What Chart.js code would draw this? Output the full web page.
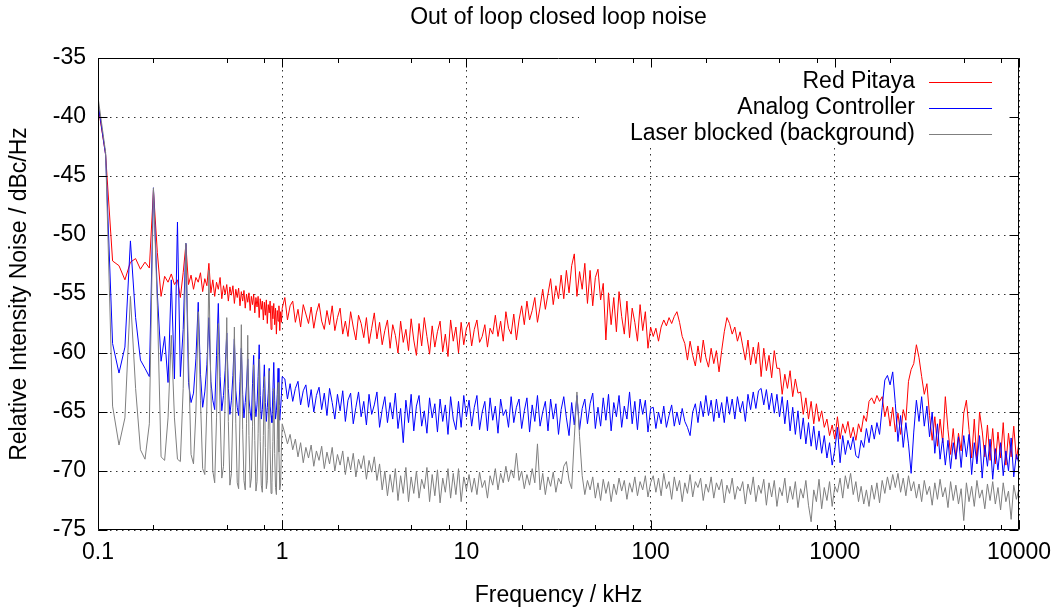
<!DOCTYPE html>
<html>
<head>
<meta charset="utf-8">
<title>Out of loop closed loop noise</title>
<script src="https://cdn.jsdelivr.net/npm/chart.js@4.4.1/dist/chart.umd.min.js"></script>
<style>
  html, body { margin: 0; padding: 0; background: #fff; }
  #noiseChart { display: block; }
</style>
</head>
<body>
<canvas id="noiseChart" width="1060" height="610"></canvas>
<script>
// ===== LABELS =====
const chartTitle = 'Out of loop closed loop noise';
const xTitle = 'Frequency / kHz';
const yTitle = 'Relative Intensity Noise / dBc/Hz';
const seriesNames = ['Red Pitaya', 'Analog Controller', 'Laser blocked (background)'];
const seriesColors = ['#ff0000', '#0000ff', '#7f7f7f'];

const xTickValues = [0.1, 1, 10, 100, 1000, 10000];
const xTickLabels = ['0.1', '1', '10', '100', '1000', '10000'];
const xMinorMantissas = [2, 5, 8];
const yTickValues = [-75, -70, -65, -60, -55, -50, -45, -40, -35];

// ===== FREQUENCY GRID (kHz) =====
// 0.1 - 1 kHz every 10 Hz, then 70 log steps per decade up to 10 MHz
const freqs = [];
for (let i = 10; i <= 100; i++) freqs.push(i / 100);
for (let k = 1; k <= 280; k++) freqs.push(Math.pow(10, k / 70));

// ===== RED PITAYA (dBc/Hz) =====
const redLow = [
  -39.0, -43.2, -52.2, -52.6, -53.8, -52.3, -52.0, -52.9, -52.3, -52.8, -46.2,
  -51.5, -55.2, -53.5, -54.0, -53.3, -54.2, -53.8, -55.3, -53.2, -50.8,
  -54.2, -53.4, -54.6, -53.6, -54.0, -53.2, -54.8, -53.7, -54.3, -52.4,
  -54.9, -53.8, -55.2, -54.0, -54.6, -53.6, -55.4, -54.3, -55.0, -54.2,
  -55.6, -54.4, -55.1, -54.3, -55.8, -54.6, -55.3, -54.5, -56.0, -54.8,
  -55.6, -54.7, -56.2, -55.0, -55.7, -54.9, -56.4, -55.2, -55.9, -55.0,
  -56.6, -55.3, -56.1, -55.2, -57.0, -55.4, -56.3, -55.6, -57.2, -55.7,
  -56.8, -55.5, -57.5, -55.9, -56.6, -55.6, -58.0, -56.0, -57.1, -55.8,
  -57.6, -56.2, -58.4, -56.4, -57.3, -56.0, -58.1, -56.5, -57.4, -56.2
];
const redDec1 = [
  -55.3, -57.2, -56.0, -55.6, -57.4, -56.3, -57.8, -55.9, -56.7, -57.5,
  -56.1, -57.9, -56.6, -55.8, -57.3, -58.0, -56.4, -57.6, -56.0, -58.1,
  -57.0, -56.2, -58.4, -57.3, -58.6, -56.5, -57.8, -58.9, -56.8, -57.5,
  -58.7, -57.0, -59.2, -57.9, -56.6, -58.8, -57.4, -59.3, -58.1, -57.2,
  -59.6, -57.6, -58.5, -60.0, -57.3, -59.1, -58.0, -59.8, -57.1, -58.9,
  -60.2, -57.5, -59.4, -57.0, -58.6, -60.1, -57.7, -59.5, -58.2, -57.3,
  -59.9, -58.4, -60.3, -57.2, -59.0, -57.8, -60.0, -57.4, -59.3, -57.9
];
const redDec2 = [
  -57.4, -59.4, -58.0, -57.2, -59.1, -58.6, -57.6, -59.5, -57.9, -58.4,
  -56.8, -58.6, -57.3, -59.0, -56.5, -57.9, -58.4, -56.7, -58.9, -57.2,
  -56.0, -57.6, -55.6, -57.2, -56.4, -55.3, -57.4, -56.1, -54.6, -56.3,
  -55.0, -53.7, -55.9, -54.3, -55.4, -53.4, -55.4, -53.0, -54.9, -52.6,
  -51.6, -55.2, -53.1, -54.6, -52.4, -55.8, -53.0, -56.0, -53.6, -52.9,
  -55.5, -54.1, -58.9, -54.9, -57.6, -55.3, -58.2, -54.8, -56.9, -58.4,
  -55.6, -58.7, -56.2, -57.4, -59.0, -55.9, -58.1, -56.5, -59.6, -57.8
];
const redDec3 = [
  -58.6, -57.9, -59.0, -57.8, -57.2, -57.7, -57.0, -57.5, -56.9, -56.5,
  -57.4, -58.6, -59.2, -60.6, -59.0, -60.2, -61.1, -59.4, -60.8, -58.9,
  -60.4, -61.2, -59.6, -60.9, -59.8, -61.6, -59.8, -58.2, -57.0, -57.5,
  -58.4, -57.8, -59.0, -58.2, -59.4, -60.6, -58.9, -61.0, -59.5, -60.9,
  -59.1, -62.0, -59.6, -61.5, -60.2, -62.1, -59.8, -61.3, -61.3, -63.5,
  -61.8, -63.0, -61.5, -63.7, -62.2, -63.4, -63.3, -65.2, -63.8, -65.6,
  -64.1, -66.0, -64.3, -65.8, -64.9, -66.3, -65.6, -67.0, -66.1, -67.3
];
const redDec4 = [
  -65.4, -67.3, -66.0, -66.8, -65.8, -67.2, -66.3, -67.4, -66.0, -66.7,
  -65.3, -65.8, -64.1, -63.8, -64.3, -63.6, -64.1, -63.7, -65.4, -64.5,
  -66.2, -64.6, -66.7, -65.1, -66.9, -64.8, -65.7, -62.4, -61.4, -60.9,
  -59.3, -60.4, -62.0, -63.5, -62.6, -65.3, -67.4, -65.4, -67.9, -65.6,
  -67.6, -63.7, -66.5, -68.6, -66.4, -69.0, -66.8, -68.3, -65.1, -64.0,
  -66.5, -68.9, -65.6, -69.2, -65.0, -66.6, -68.8, -66.1, -69.1, -66.4,
  -69.4, -66.7, -68.9, -65.9, -69.5, -66.8, -68.8, -66.2, -69.0, -67.6
];

// ===== ANALOG CONTROLLER (dBc/Hz) =====
const blueLow = [
  -38.8, -43.2, -59.2, -61.7, -59.5, -50.5, -57.0, -60.6, -61.3, -62.0, -46.0,
  -55.0, -60.7, -58.6, -62.5, -53.8, -62.2, -48.9, -62.0, -58.0, -50.7,
  -62.5, -64.2, -63.4, -60.5, -55.7, -61.8, -64.6, -63.3, -61.0, -57.0,
  -62.4, -64.0, -64.8, -60.2, -55.8, -62.0, -64.9, -63.6, -61.5, -58.3,
  -63.0, -65.2, -64.0, -61.9, -58.8, -63.2, -64.6, -65.3, -62.4, -59.6,
  -63.5, -65.5, -64.2, -62.8, -60.5, -63.9, -65.0, -65.7, -62.6, -60.2,
  -64.0, -65.4, -64.4, -62.0, -59.3, -63.6, -65.6, -64.8, -63.0, -61.0,
  -64.2, -65.8, -64.6, -63.4, -61.3, -64.5, -65.3, -65.9, -63.2, -60.8,
  -64.0, -65.6, -64.9, -63.5, -61.3, -64.4, -65.7, -64.7, -63.6, -62.0
];
const blueDec1 = [
  -62.2, -63.9, -62.6, -64.1, -63.0, -62.4, -64.4, -63.2, -62.7, -64.6,
  -63.1, -65.0, -63.6, -62.9, -64.8, -63.4, -65.3, -63.0, -64.2, -65.6,
  -63.5, -64.9, -63.2, -65.8, -64.0, -63.4, -66.0, -64.6, -63.3, -65.4,
  -64.1, -66.1, -63.5, -65.2, -64.4, -63.3, -66.3, -64.8, -63.7, -65.9,
  -64.2, -65.6, -63.4, -66.4, -64.7, -67.6, -64.0, -65.9, -63.5, -66.6,
  -64.5, -63.6, -66.2, -64.9, -66.8, -63.8, -65.5, -64.3, -66.7, -63.9,
  -65.8, -64.4, -66.9, -63.7, -65.6, -66.5, -64.1, -66.3, -63.6, -65.4
];
const blueDec2 = [
  -64.0, -66.2, -64.6, -63.6, -66.5, -65.0, -64.1, -66.6, -63.8, -65.7,
  -64.5, -66.8, -63.9, -65.3, -64.8, -66.3, -63.7, -65.9, -64.6, -63.9,
  -66.4, -64.9, -63.8, -66.7, -64.4, -65.8, -63.6, -66.2, -65.0, -64.1,
  -66.6, -63.9, -65.6, -64.3, -66.9, -64.8, -63.7, -65.5, -67.0, -64.2,
  -66.1, -63.6, -66.5, -64.7, -63.9, -66.0, -64.3, -63.4, -66.4, -64.6,
  -66.2, -63.8, -65.7, -63.5, -66.6, -64.2, -65.4, -63.6, -66.3, -64.5,
  -65.6, -63.3, -66.0, -64.1, -66.5, -63.9, -65.2, -64.0, -66.7, -64.7
];
const blueDec3 = [
  -64.6, -66.4, -65.0, -66.0, -64.5, -66.3, -65.3, -64.4, -66.2, -65.0,
  -66.1, -64.7, -65.8, -66.3, -67.0, -65.0, -64.3, -65.9, -64.1, -65.4,
  -63.6, -65.3, -64.0, -65.8, -63.9, -65.5, -64.2, -65.9, -63.7, -65.2,
  -63.9, -65.6, -63.7, -65.0, -64.1, -65.8, -63.5, -64.8, -63.3, -64.7,
  -63.2, -63.0, -64.4, -63.1, -64.8, -63.4, -65.1, -63.5, -65.4, -63.7,
  -66.0, -64.0, -66.6, -64.6, -66.9, -64.9, -67.3, -65.5, -67.7, -65.9,
  -67.9, -66.2, -68.2, -66.6, -68.5, -67.0, -68.9, -67.6, -69.5, -68.2
];
const blueDec4 = [
  -66.3, -69.3, -67.0, -68.6, -67.4, -68.2, -67.1, -68.7, -68.9, -67.4,
  -68.0, -66.4, -67.6, -66.1, -67.3, -65.9, -66.9, -64.6, -62.3, -61.9,
  -62.7, -61.6, -64.3, -67.5, -65.3, -68.0, -65.9, -67.7, -70.2, -66.7,
  -64.0, -65.8, -63.7, -66.2, -64.5, -67.1, -65.0, -68.5, -66.0, -69.0,
  -67.2, -69.5, -67.4, -69.8, -67.6, -69.0, -67.1, -69.7, -67.0, -68.8,
  -66.9, -70.3, -67.6, -69.4, -67.0, -70.6, -67.8, -69.6, -67.3, -70.7,
  -68.1, -69.9, -67.6, -70.4, -68.3, -70.0, -67.2, -70.5, -68.6, -69.4
];

// ===== LASER BLOCKED (dBc/Hz) =====
const grayLow = [
  -38.3, -43.0, -64.5, -67.8, -65.5, -55.2, -63.0, -68.2, -69.0, -66.0, -46.0,
  -56.0, -68.8, -69.1, -65.5, -58.5, -65.5, -69.0, -69.2, -63.0, -50.7,
  -60.5, -68.6, -69.4, -65.0, -56.5, -64.0, -69.8, -70.3, -64.5, -53.0,
  -63.0, -70.0, -71.0, -65.5, -57.5, -65.0, -70.6, -69.6, -64.0, -57.0,
  -65.8, -71.2, -70.2, -64.6, -57.8, -66.0, -71.0, -71.5, -65.2, -57.6,
  -66.5, -70.8, -71.6, -66.0, -58.5, -67.0, -71.4, -70.6, -66.2, -61.0,
  -67.4, -71.7, -70.9, -66.8, -60.5, -67.5, -71.2, -71.8, -67.0, -62.0,
  -68.0, -71.5, -70.8, -66.5, -61.5, -68.2, -71.9, -71.0, -67.5, -63.0,
  -68.5, -71.4, -72.0, -67.3, -62.5, -68.4, -71.6, -71.1, -68.0, -66.0
];
const grayDec1 = [
  -66.8, -67.7, -66.9, -68.2, -67.3, -68.8, -67.6, -69.3, -68.0, -68.9,
  -67.8, -69.6, -68.3, -69.1, -67.9, -69.8, -68.4, -69.4, -68.0, -70.0,
  -68.6, -69.5, -68.3, -70.3, -68.8, -69.9, -68.5, -70.5, -69.0, -69.8,
  -68.7, -70.7, -69.1, -70.1, -68.8, -70.8, -69.4, -71.6, -70.0, -72.1,
  -70.3, -71.8, -69.8, -72.5, -70.4, -71.9, -69.7, -72.6, -70.5, -71.9,
  -70.0, -72.3, -70.7, -71.5, -69.7, -72.6, -70.3, -72.1, -69.9, -72.7,
  -70.6, -71.8, -69.8, -72.3, -70.2, -72.0, -69.8, -72.6, -70.5, -71.6
];
const grayDec2 = [
  -70.3, -71.8, -70.6, -72.0, -70.1, -71.4, -70.8, -72.3, -70.4, -71.2,
  -69.8, -71.6, -70.2, -71.0, -69.6, -70.9, -69.9, -70.6, -68.5, -70.8,
  -70.0, -71.5, -70.3, -71.2, -69.8, -71.0, -67.7, -71.6, -70.2, -72.0,
  -70.5, -71.3, -70.1, -71.8, -70.6, -71.1, -69.6, -69.2, -70.8, -71.5,
  -67.2, -63.3, -67.1, -70.4, -72.0, -70.8, -71.6, -70.5, -72.3, -71.0,
  -72.5, -70.7, -71.9, -70.9, -72.6, -71.1, -72.0, -70.6, -71.7, -70.8,
  -72.4, -71.0, -71.8, -70.5, -72.1, -70.9, -71.6, -70.4, -72.2, -71.0
];
const grayDec3 = [
  -70.4, -71.8, -70.6, -72.1, -70.2, -71.5, -70.9, -72.4, -70.5, -71.7,
  -70.8, -72.6, -71.0, -71.9, -70.3, -72.2, -70.9, -71.4, -70.6, -72.5,
  -71.1, -71.8, -70.5, -72.3, -71.0, -71.6, -70.7, -72.7, -71.2, -71.9,
  -70.6, -72.4, -71.3, -71.7, -70.9, -72.8, -71.1, -72.0, -70.5, -72.6,
  -71.2, -71.9, -70.7, -72.9, -71.0, -72.2, -70.8, -73.0, -71.4, -72.1,
  -70.6, -72.7, -71.3, -72.4, -70.9, -73.1, -71.5, -72.3, -70.8, -72.9,
  -74.3, -71.6, -72.6, -70.7, -73.2, -71.4, -72.5, -70.9, -73.0, -71.3
];
const grayDec4 = [
  -71.8, -70.6, -72.3, -70.4, -71.5, -70.2, -72.0, -70.9, -72.6, -71.3,
  -72.8, -71.6, -73.0, -71.2, -72.4, -71.0, -72.7, -70.8, -71.9, -70.5,
  -71.6, -70.3, -71.4, -70.2, -71.8, -70.6, -72.1, -70.4, -71.7, -70.9,
  -72.3, -71.1, -72.6, -70.8, -72.0, -71.3, -72.9, -71.0, -72.4, -70.7,
  -72.2, -71.4, -73.1, -70.9, -72.5, -71.2, -72.8, -71.5, -74.2, -71.0,
  -72.6, -71.3, -73.0, -70.8, -72.3, -71.6, -73.2, -71.1, -72.5, -70.9,
  -72.8, -71.4, -73.3, -71.0, -72.6, -71.7, -74.1, -71.2, -72.4, -71.5
];

const redValues  = [...redLow, ...redDec1, ...redDec2, ...redDec3, ...redDec4];
const blueValues = [...blueLow, ...blueDec1, ...blueDec2, ...blueDec3, ...blueDec4];
const grayValues = [...grayLow, ...grayDec1, ...grayDec2, ...grayDec3, ...grayDec4];

// ===== HELPERS =====
const FONT = '"Liberation Sans", Arial, sans-serif';
const FONT_SIZE = 23;

function toPoints(values) {
  return values.map((v, i) => ({ x: freqs[i], y: v }));
}

function lineDataset(label, values, color, order) {
  return {
    label, data: toPoints(values), borderColor: color, backgroundColor: color,
    borderWidth: 1, pointRadius: 0, tension: 0, fill: false, order
  };
}

// ===== TITLE, KEY AND BORDER (gnuplot look) =====
const gnuplotFrame = {
  id: 'gnuplotFrame',
  afterDatasetsDraw(chart) {
    const { ctx, chartArea: a, scales: { x, y } } = chart;
    ctx.save();

    // title, centred over the plot area
    ctx.fillStyle = '#000';
    ctx.font = FONT_SIZE + 'px ' + FONT;
    ctx.textAlign = 'center';
    ctx.textBaseline = 'middle';
    ctx.fillText(chartTitle, (a.left + a.right) / 2, 18);

    // key: opaque box, right-aligned text, sample line on the right
    ctx.fillStyle = '#fff';
    ctx.fillRect(a.right - 440, a.top + 1, 438, 89);
    ctx.textAlign = 'right';
    seriesNames.forEach((name, i) => {
      const rowY = a.top + 23.5 + i * 26.3;
      ctx.fillStyle = '#000';
      ctx.fillText(name, a.right - 104, rowY);
      ctx.strokeStyle = seriesColors[i];
      ctx.lineWidth = 1;
      ctx.beginPath();
      ctx.moveTo(a.right - 90, Math.round(rowY) + 0.5);
      ctx.lineTo(a.right - 27, Math.round(rowY) + 0.5);
      ctx.stroke();
    });

    // border and inward tics
    ctx.strokeStyle = '#000';
    ctx.lineWidth = 1;
    const L = Math.round(a.left) + 0.5, R = Math.round(a.right) - 0.5;
    const T = Math.round(a.top) + 0.5, B = Math.round(a.bottom) - 0.5;
    ctx.beginPath();
    ctx.rect(L, T, R - L, B - T);

    const major = 9, minor = 4.5;
    xTickValues.forEach((v, i) => {
      const px = Math.round(x.getPixelForValue(v)) + 0.5;
      ctx.moveTo(px, B); ctx.lineTo(px, B - major);
      ctx.moveTo(px, T); ctx.lineTo(px, T + major);
      if (i < xTickValues.length - 1) {
        xMinorMantissas.forEach(m => {
          const mx = Math.round(x.getPixelForValue(v * m)) + 0.5;
          ctx.moveTo(mx, B); ctx.lineTo(mx, B - minor);
          ctx.moveTo(mx, T); ctx.lineTo(mx, T + minor);
        });
      }
    });
    yTickValues.forEach(v => {
      const py = Math.round(y.getPixelForValue(v)) + 0.5;
      ctx.moveTo(L, py); ctx.lineTo(L + major, py);
      ctx.moveTo(R, py); ctx.lineTo(R - major, py);
    });
    ctx.stroke();
    ctx.restore();
  }
};

// ===== CHART =====
const axisFont = { family: FONT, size: FONT_SIZE };
const gridStyle = { color: 'rgba(0,0,0,0.8)', lineWidth: 1, drawTicks: false };
const gridDash = { display: false, dash: [1.5, 4.5] };

new Chart(document.getElementById('noiseChart'), {
  type: 'line',
  data: {
    datasets: [
      lineDataset(seriesNames[0], redValues,  seriesColors[0], 3),
      lineDataset(seriesNames[1], blueValues, seriesColors[1], 2),
      lineDataset(seriesNames[2], grayValues, seriesColors[2], 1)
    ]
  },
  options: {
    responsive: false,
    animation: false,
    devicePixelRatio: 1,
    layout: { padding: { top: 58, right: 40, bottom: 0, left: 0 } },
    plugins: { legend: { display: false }, tooltip: { enabled: false }, title: { display: false } },
    scales: {
      x: {
        type: 'logarithmic',
        min: 0.1, max: 10000,
        afterBuildTicks: s => { s.ticks = xTickValues.map(v => ({ value: v })); },
        afterFit: s => { s.height = 80; },
        ticks: { callback: (v, i) => xTickLabels[i], padding: 9, font: axisFont, color: '#000',
                 maxRotation: 0, autoSkip: false },
        grid: gridStyle,
        border: gridDash,
        title: { display: true, text: xTitle, font: axisFont, color: '#000', padding: { top: 0, bottom: 1 } }
      },
      y: {
        type: 'linear',
        min: -75, max: -35,
        afterBuildTicks: s => { s.ticks = yTickValues.map(v => ({ value: v })); },
        afterFit: s => { s.width = 98; },
        ticks: { callback: v => String(v), padding: 12, font: axisFont, color: '#000' },
        grid: gridStyle,
        border: gridDash,
        title: { display: true, text: yTitle, font: axisFont, color: '#000', padding: { top: 6, bottom: 0 } }
      }
    }
  },
  plugins: [gnuplotFrame]
});
</script>
</body>
</html>
